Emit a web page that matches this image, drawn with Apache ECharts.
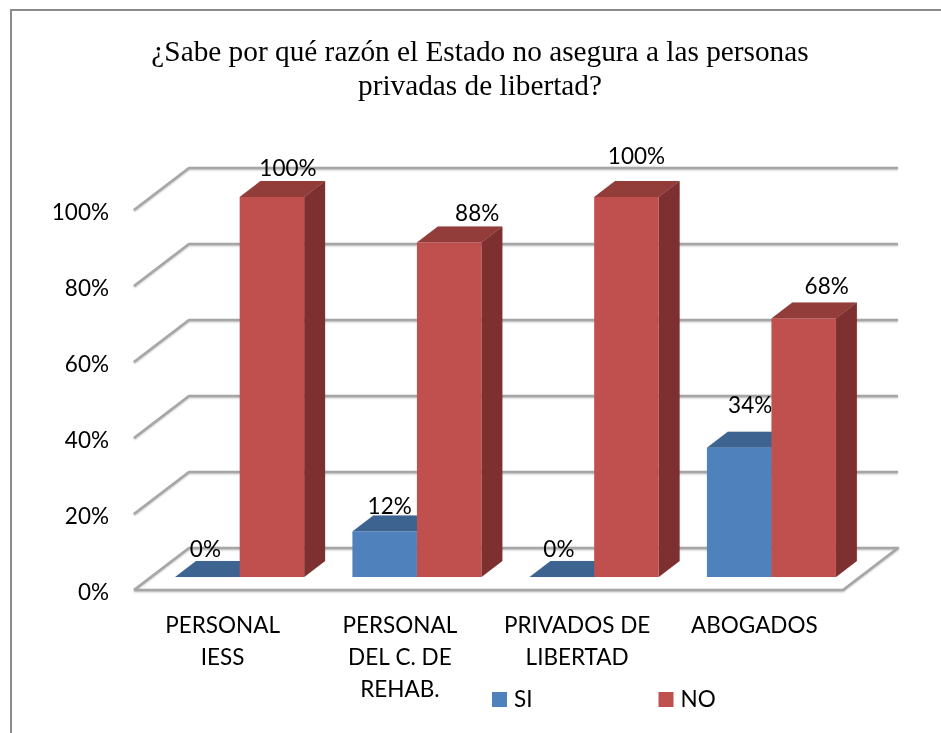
<!DOCTYPE html>
<html>
<head>
<meta charset="utf-8">
<title>Estado no asegura</title>
<script src="https://cdn.jsdelivr.net/npm/echarts@6/dist/echarts.min.js"></script>
<style>
  html, body { margin: 0; padding: 0; background: #fff; }
  #main { width: 941px; height: 733px; }
</style>
</head>
<body>
<div id="main"></div>
<script>
const categories = ['PERSONAL\nIESS', 'PERSONAL\nDEL C. DE\nREHAB.', 'PRIVADOS DE\nLIBERTAD', 'ABOGADOS']
const siValues = [0, 12, 0, 34]
const noValues = [100, 88, 100, 68]
const gridTicks = [0, 20, 40, 60, 80, 100]

// fake 3d: how far the back wall sits from the front plane
const DEPTH_X = 55
const DEPTH_Y = -42
// where the bars sit inside that depth (0 front, 1 back)
const BAR_FRONT = 0.31
const BAR_BACK = 0.69
const BAR_WIDTH = 0.364

// the labels were moved by hand in the original
const siLabelShift = [[-2, -27], [5, -25], [-3, -27], [11, -42]]
const noLabelShift = [[16, -28], [28, -29], [10, -40], [23, -32]]

const lineStyle = {
  fill: 'none',
  stroke: '#a6a6a6',
  lineWidth: 2.5,
  lineJoin: 'round',
  shadowBlur: 2,
  shadowColor: 'rgba(0,0,0,0.25)',
  shadowOffsetY: 1
}

function renderWall(params, api) {
  const tick = api.value(0)
  const box = params.coordSys
  const y = api.coord([0, tick])[1]
  const left = box.x
  const right = box.x + box.width
  const points = [[left, y], [left + DEPTH_X, y + DEPTH_Y], [right + DEPTH_X, y + DEPTH_Y]]
  if (tick === 0) {
    points.push([right, y], [left, y])
  }
  return { type: 'polyline', shape: { points: points }, style: lineStyle, silent: true }
}

function barRenderer(offset, front, top, side, shifts) {
  return function (params, api) {
    const idx = api.value(0)
    const val = api.value(1)
    const base = api.coord([idx, 0])
    const head = api.coord([idx, val])
    const w = api.size([1, 0])[0] * BAR_WIDTH
    const x0 = base[0] + offset * w + DEPTH_X * BAR_FRONT
    const x1 = x0 + w
    const y0 = base[1] + DEPTH_Y * BAR_FRONT
    const y1 = head[1] + DEPTH_Y * BAR_FRONT
    const dx = DEPTH_X * (BAR_BACK - BAR_FRONT)
    const dy = DEPTH_Y * (BAR_BACK - BAR_FRONT)
    const poly = (points, color) => ({
      type: 'polygon',
      shape: { points: points },
      style: { fill: color, shadowBlur: 1, shadowColor: 'rgba(0,0,0,0.2)' }
    })
    const children = [
      poly([[x1, y0], [x1 + dx, y0 + dy], [x1 + dx, y1 + dy], [x1, y1]], side),
      poly([[x0, y1], [x1, y1], [x1 + dx, y1 + dy], [x0 + dx, y1 + dy]], top)
    ]
    if (val > 0) {
      children.push({ type: 'rect', shape: { x: x0, y: y1, width: w, height: y0 - y1 }, style: { fill: front } })
    }
    children.push({
      type: 'text',
      z2: 10,
      style: {
        text: val + '%',
        x: x0 + w / 2 + shifts[idx][0],
        y: y1 + shifts[idx][1],
        align: 'center',
        verticalAlign: 'middle',
        fill: '#000',
        font: '22.5px Lato'
      }
    })
    return { type: 'group', children: children }
  }
}

const myChart = echarts.init(document.getElementById('main'))
const option = {
  animation: false,
  backgroundColor: '#fff',
  title: {
    text: '¿Sabe por qué razón el Estado no asegura a las personas\nprivadas de libertad?',
    left: 475,
    top: 31,
    textAlign: 'center',
    textStyle: {
      fontFamily: 'Liberation Serif',
      fontWeight: 'normal',
      fontSize: 29.3,
      lineHeight: 34,
      color: '#000'
    }
  },
  graphic: [
    {
      type: 'polyline',
      shape: { points: [[11, 733], [11, 10], [941, 10]] },
      style: { fill: 'none', stroke: '#8c8c8c', lineWidth: 2 }
    }
  ],
  legend: {
    data: ['SI', 'NO'],
    left: 487,
    top: 683,
    icon: 'rect',
    itemWidth: 15,
    itemHeight: 15,
    itemGap: 126,
    textStyle: { fontFamily: 'Lato', fontSize: 22.5, color: '#000', padding: [0, 0, 0, 2] }
  },
  grid: { left: 134, top: 210, width: 709, height: 380 },
  xAxis: {
    type: 'category',
    data: categories,
    axisLine: { show: false },
    axisTick: { show: false },
    axisLabel: {
      interval: 0,
      margin: 20,
      fontFamily: 'Lato',
      fontSize: 22.5,
      lineHeight: 32,
      color: '#000'
    }
  },
  yAxis: {
    type: 'value',
    min: 0,
    max: 100,
    interval: 20,
    axisLine: { show: false },
    axisTick: { show: false },
    splitLine: { show: false },
    axisLabel: {
      formatter: '{v|{value}%}',
      margin: 25,
      rich: {
        v: { padding: [6, 0, 0, 0], fontFamily: 'Lato', fontSize: 22.5, color: '#000' }
      }
    }
  },
  series: [
    {
      type: 'custom',
      name: 'pared',
      silent: true,
      z: 1,
      renderItem: renderWall,
      encode: { y: 0 },
      data: gridTicks.map(t => [t])
    },
    {
      type: 'custom',
      name: 'SI',
      z: 2,
      itemStyle: { color: '#4f81bd' },
      renderItem: barRenderer(-1, '#4f81bd', '#3d6491', '#2f4e72', siLabelShift),
      encode: { x: 0, y: 1 },
      data: siValues.map((v, i) => [i, v])
    },
    {
      type: 'custom',
      name: 'NO',
      z: 3,
      itemStyle: { color: '#c0504d' },
      renderItem: barRenderer(0, '#c0504d', '#933d3b', '#7d302f', noLabelShift),
      encode: { x: 0, y: 1 },
      data: noValues.map((v, i) => [i, v])
    }
  ]
}
myChart.setOption(option)
</script>
</body>
</html>
